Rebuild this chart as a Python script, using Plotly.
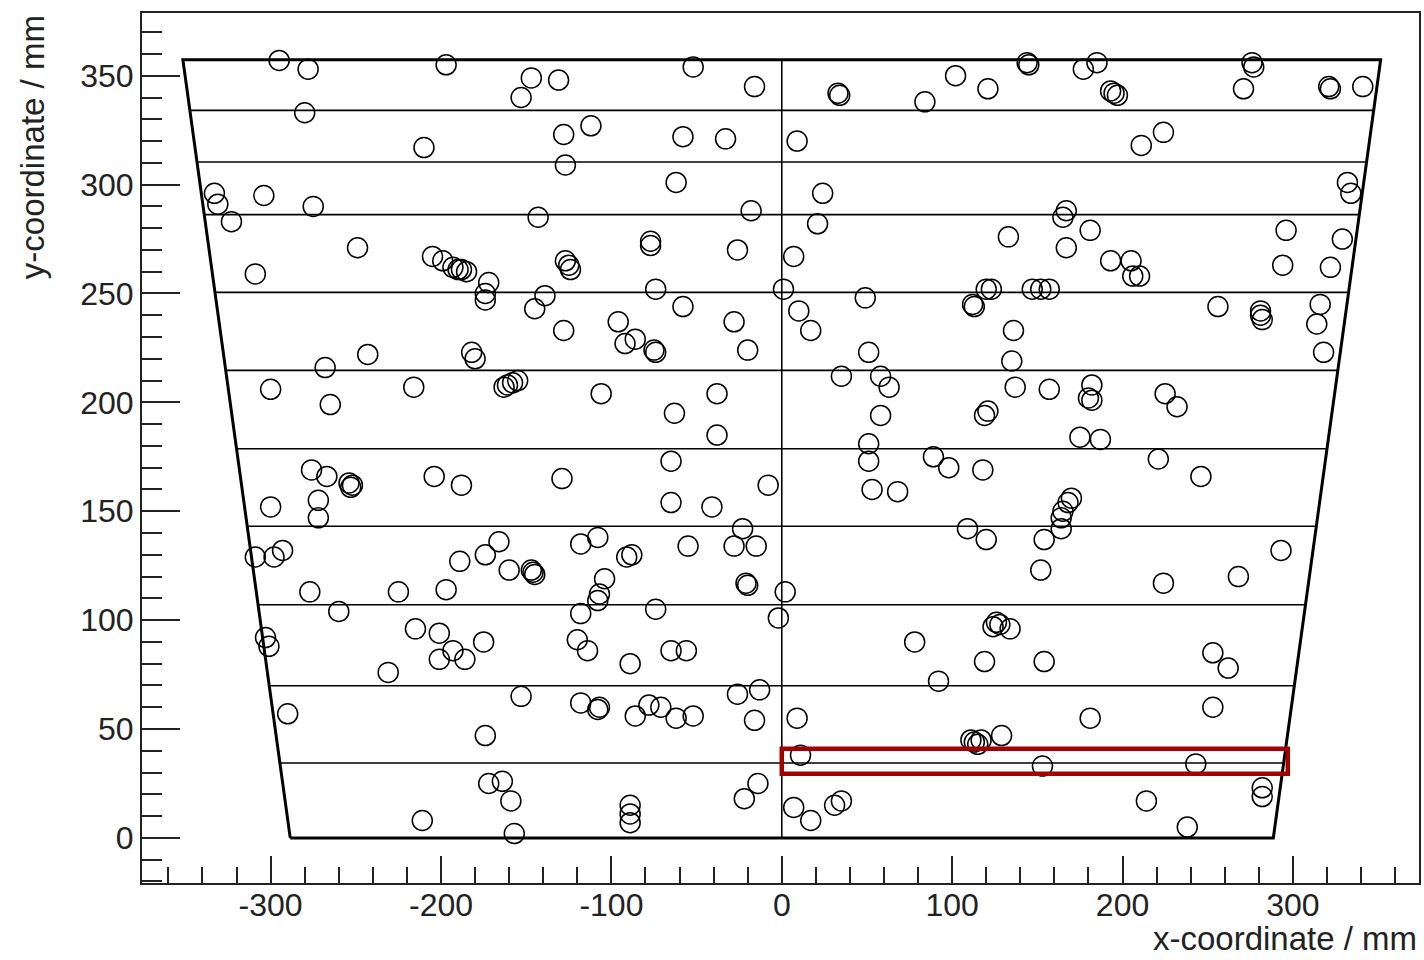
import plotly.graph_objects as go

# ---- hit positions (mm) ----
hits_x = [
    -295, -278, -197, -147, -131, -153, -280, -210, -128, -127,
    -333, -331, -323, -304, -275, -143, -249, -309, -205, -199,
    -193, -190, -188, -185, -172, -174, -174, -139, -145, -127,
    -125, -124, -52, -16, 33, 34, 84, 102, 121, -112,
    -58, -33, 9, -62, -18, 24, 21, -77, -77, -26,
    7, -74, 1, -58, 49, 10, 112, 113, 120, 144,
    145, 177, 185, 193, 195, 197, 276, 277, 271, 321,
    322, 341, 211, 224, 332, 334, 167, 165, 181, 133,
    167, 296, 329, 193, 205, 206, 210, 294, 322, 123,
    147, 152, 157, 256, 281, 316, -128, -243, -268, -182,
    -180, -300, -265, -216, -161, -158, -155, -163, -276, -267,
    -254, -253, -252, -204, -188, -129, -300, -272, -272, -309,
    -298, -293, -189, -174, -166, -160, -147, -146, -145, -277,
    -225, -197, 17, -96, -92, -86, -75, -74, -28, -20,
    51, -106, -38, -63, -38, 35, 58, 63, 58, 119,
    121, 51, 51, 53, 68, 89, 98, 118, -65, -8,
    -65, -41, -23, -28, -15, -55, -118, -108, -91, -88,
    -104, -107, -108, -21, -20, 2, 109, 120, 281, 282,
    314, 318, 136, 135, 137, 157, 182, 180, 182, 225,
    232, 175, 187, 221, 246, 170, 168, 165, 164, 164,
    154, 152, 224, 268, 293, -260, -303, -301, -215, -201,
    -201, -193, -186, -175, -231, -290, -153, -174, -172, -164,
    -159, -211, -157, -118, -74, -2, -120, -114, -89, -65,
    -56, -118, -108, -107, -86, -78, -71, -62, -52, -26,
    -13, -16, 9, 11, 78, 92, 111, 113, 115, 117,
    119, -14, -22, -89, -89, -89, 7, 17, 31, 35,
    124, 126, 128, 134, 154, 253, 262, 181, 253, 129,
    153, 243, 214, 238, 282, 282,
]
hits_y = [
    357, 353, 355, 349, 348, 340, 333, 317, 323, 309,
    296, 291, 283, 295, 290, 285, 271, 259, 267, 265,
    262, 261, 261, 260, 255, 250, 247, 249, 243, 265,
    263, 261, 354, 345, 342, 341, 338, 350, 344, 327,
    322, 321, 320, 301, 288, 296, 282, 274, 272, 270,
    267, 252, 252, 244, 248, 242, 245, 244, 252, 356,
    355, 353, 356, 343, 342, 341, 356, 354, 344, 345,
    344, 345, 318, 324, 301, 296, 288, 285, 279, 276,
    271, 279, 275, 265, 265, 258, 258, 263, 262, 252,
    252, 252, 252, 244, 242, 245, 233, 222, 216, 223,
    220, 206, 199, 207, 208, 209, 210, 207, 169, 166,
    163, 161, 162, 166, 162, 165, 152, 155, 147, 129,
    129, 132, 127, 130, 136, 123, 123, 122, 121, 113,
    113, 114, 233, 237, 227, 229, 224, 223, 237, 224,
    223, 204, 204, 195, 185, 212, 212, 207, 194, 194,
    196, 181, 173, 160, 159, 175, 170, 169, 173, 162,
    154, 152, 142, 134, 134, 134, 135, 138, 129, 130,
    119, 112, 109, 117, 116, 113, 142, 137, 240, 238,
    236, 223, 233, 219, 207, 206, 208, 202, 201, 204,
    198, 184, 183, 174, 166, 156, 154, 150, 147, 142,
    137, 123, 117, 120, 132, 104, 92, 88, 96, 94,
    82, 86, 82, 90, 76, 57, 65, 47, 25, 26,
    17, 8, 2, 103, 105, 101, 91, 86, 80, 86,
    86, 62, 59, 60, 56, 61, 60, 55, 56, 66,
    68, 54, 55, 38, 90, 72, 45, 44, 43, 45,
    81, 25, 18, 15, 11, 7, 14, 8, 15, 17,
    97, 99, 98, 96, 81, 85, 78, 55, 60, 47,
    33, 34, 17, 5, 23, 19,
]

# ---- detector outline (mm) ----
strip_edges_y = [0, 34.4, 69.9, 107.1, 143.1, 178.7, 214.7, 250.5, 286.2, 310.4, 334.1, 357.3]
half_width_bottom = 288.5
half_width_top = 351.5
highlight_x = [0, 297]
highlight_y = [29.5, 41]

# ---- axes ----
x_range = [-375.5, 374]
y_range = [-20.7, 378.8]
x_tick_vals = [-300, -200, -100, 0, 100, 200, 300]
y_tick_vals = [0, 50, 100, 150, 200, 250, 300, 350]

FONT = "Liberation Sans, Arial, Helvetica, sans-serif"
INK = "#222"

def half_width(y):
    top = strip_edges_y[-1]
    return half_width_bottom + (half_width_top - half_width_bottom) * y / top

fig = go.Figure()

# inner strip boundaries
for y in strip_edges_y[1:-1]:
    hw = half_width(y)
    fig.add_trace(go.Scatter(x=[-hw, hw], y=[y, y], mode="lines",
                             line=dict(color="black", width=1.6),
                             hoverinfo="skip", showlegend=False))

# centre line
fig.add_trace(go.Scatter(x=[0, 0], y=[strip_edges_y[0], strip_edges_y[-1]], mode="lines",
                         line=dict(color="black", width=1.6),
                         hoverinfo="skip", showlegend=False))

# outer trapezoid
top = strip_edges_y[-1]
fig.add_trace(go.Scatter(
    x=[-half_width_bottom, half_width_bottom, half_width_top, -half_width_top, -half_width_bottom],
    y=[0, 0, top, top, 0], mode="lines",
    line=dict(color="black", width=3),
    hoverinfo="skip", showlegend=False))

# hits
fig.add_trace(go.Scatter(
    x=hits_x, y=hits_y, mode="markers",
    marker=dict(symbol="circle-open", size=20, color="black", line=dict(width=1.5, color="black")),
    showlegend=False))

fig.add_shape(type="rect", xref="x", yref="y",
              x0=highlight_x[0], x1=highlight_x[1], y0=highlight_y[0], y1=highlight_y[1],
              line=dict(color="#a30000", width=4.5))

axis_common = dict(showgrid=False, zeroline=False, showline=True, linecolor=INK,
                   linewidth=2, mirror=True, ticks="inside", tickcolor=INK, tickwidth=1.6,
                   tickfont=dict(family=FONT, size=32, color=INK))

fig.update_xaxes(range=x_range, tickmode="array", tickvals=x_tick_vals,
                 ticktext=[str(v) for v in x_tick_vals], ticklen=27, ticklabelstandoff=-7,
                 minor=dict(tickmode="linear", tick0=0, dtick=20, ticks="inside", ticklen=16,
                            tickcolor=INK, tickwidth=1.6),
                 **axis_common)
fig.update_yaxes(range=y_range, tickmode="array", tickvals=y_tick_vals,
                 ticktext=[str(v) for v in y_tick_vals], ticklen=38,
                 minor=dict(tickmode="linear", tick0=0, dtick=10, ticks="inside", ticklen=20,
                            tickcolor=INK, tickwidth=1.6),
                 **axis_common)

W, H = 1424, 960
ml, mr, mt, mb = 142, 3, 13, 77
pw, ph = W - ml - mr, H - mt - mb

fig.add_annotation(text="y-coordinate / mm", textangle=-90, xref="paper", yref="paper",
                   x=(32 - ml) / pw, y=1.0, xanchor="center", yanchor="top", showarrow=False,
                   font=dict(family=FONT, size=33, color=INK))
fig.add_annotation(text="x-coordinate / mm", xref="paper", yref="paper",
                   x=1.0, y=-(959 - (H - mb)) / ph, xanchor="right", yanchor="bottom", showarrow=False,
                   font=dict(family=FONT, size=33, color=INK))

fig.update_layout(width=W, height=H, margin=dict(l=ml, r=mr, t=mt, b=mb),
                  paper_bgcolor="white", plot_bgcolor="white",
                  font=dict(family=FONT, color=INK))

fig.write_html("out.html")
